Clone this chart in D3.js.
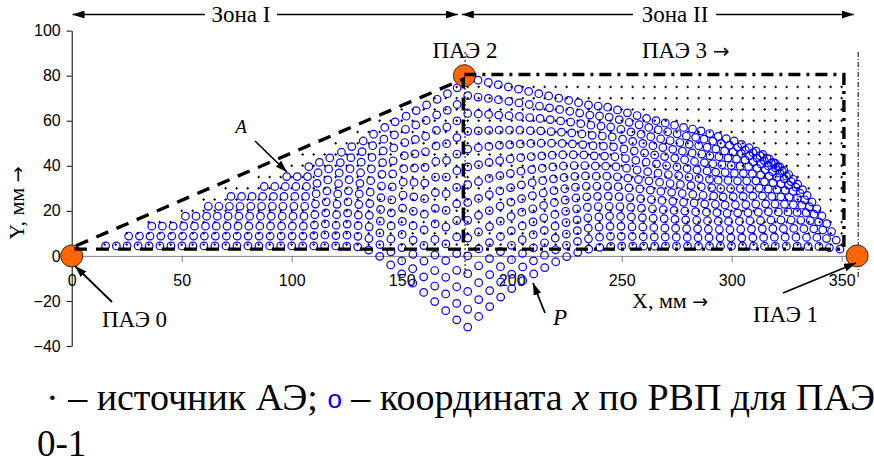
<!DOCTYPE html>
<html><head><meta charset="utf-8">
<script src="https://cdn.jsdelivr.net/npm/d3@7"></script>
<style>
html,body{margin:0;padding:0;background:#fff;}
svg{display:block;}
</style></head><body>
<svg id="chart" width="874" height="463"></svg>
<script>
// Axis ticks
const xTicks = [0, 50, 100, 150, 200, 250, 300, 350];
const yTicks = [-40, -20, 0, 20, 40, 60, 80, 100];

// Sensors (ПАЭ), mm
const sensorNames = ["ПАЭ 0", "ПАЭ 1", "ПАЭ 2"];
const sensorX = [0, 357, 178.5];
const sensorY = [0, 0, 80];

// AE source grid: zone I columns with the highest row in each column
const zone1Cols = [15,20,25,30,35,40,45,50,55,60,65,70,75,80,85,90,95,100,105,110,115,120,125,130,135,140,145,150,155,160,165,170,175];
const zone1Top  = [5,5,10,10,15,15,15,20,20,25,25,30,30,30,35,35,40,40,45,45,45,50,50,55,55,60,60,65,65,65,70,70,75];
const gridRows  = [5,10,15,20,25,30,35,40,45,50,55,60,65,70,75];
// zone II columns (all rows)
const zone2Cols = [180,185,190,195,200,205,210,215,220,225,230,235,240,245,250,255,260,265,270,275,280,285,290,295,300,305,310,315,320,325,330,335,340,345,350];

// Located positions (x by time difference, sensors 0-1), zone I, one list per source column
const locZone1 = [
  [[15.4,4.4]],
  [[20.3,4.4]],
  [[25.2,4.4],[25.9,8.8]],
  [[30.2,4.4],[30.8,8.8]],
  [[35.2,4.4],[35.6,8.8],[36.4,13.2]],
  [[40.1,4.4],[40.5,8.8],[41.2,13.2]],
  [[45.1,4.4],[45.5,8.8],[46.1,13.2]],
  [[50.1,4.4],[50.4,8.8],[50.9,13.2],[51.7,17.6]],
  [[55.1,4.4],[55.4,8.8],[55.8,13.2],[56.5,17.6]],
  [[60.1,4.4],[60.3,8.8],[60.8,13.2],[61.3,17.6],[62.1,22]],
  [[65.1,4.4],[65.3,8.8],[65.7,13.2],[66.2,17.6],[66.9,22]],
  [[70.1,4.4],[70.3,8.8],[70.6,13.2],[71.1,17.6],[71.7,22],[72.4,26.4]],
  [[75.1,4.4],[75.2,8.8],[75.6,13.2],[76,17.6],[76.5,22],[77.2,26.4]],
  [[80.1,4.4],[80.2,8.8],[80.5,13.2],[80.9,17.6],[81.4,22],[82,26.4]],
  [[85.1,4.4],[85.2,8.8],[85.5,13.2],[85.8,17.6],[86.3,22],[86.8,26.4],[87.5,30.8]],
  [[90,4.4],[90.2,8.8],[90.4,13.2],[90.7,17.6],[91.2,22],[91.7,26.4],[92.3,30.8]],
  [[95,4.4],[95.2,8.8],[95.4,13.2],[95.7,17.6],[96,22],[96.5,26.4],[97.1,30.8],[97.7,35.2]],
  [[100,4.4],[100.2,8.8],[100.3,13.2],[100.6,17.6],[101,22],[101.4,26.4],[101.9,30.8],[102.5,35.2]],
  [[105,4.4],[105.1,8.8],[105.3,13.2],[105.6,17.6],[105.9,22],[106.3,26.4],[106.7,30.8],[107.2,35.2],[107.8,39.6]],
  [[110,4.4],[110.1,9],[110.3,13.7],[110.5,18.3],[110.8,23],[111.1,27.6],[111.5,32.2],[112,36.9],[112.6,41.5]],
  [[115,4.4],[115.1,9.3],[115.3,14.2],[115.5,19.1],[115.7,24],[116,28.8],[116.4,33.7],[116.8,38.6],[117.3,43.5]],
  [[120,4.4],[120.1,9],[120.2,13.6],[120.4,18.3],[120.6,22.9],[120.9,27.5],[121.3,32.1],[121.6,36.8],[122.1,41.4],[122.6,46]],
  [[125,4.3],[125.1,9.2],[125.2,14.1],[125.4,19],[125.6,24],[125.8,28.9],[126.1,33.8],[126.5,38.7],[126.9,43.6],[127.3,48.5]],
  [[130,4],[130.1,8.7],[130.2,13.4],[130.3,18.1],[130.5,22.8],[130.7,27.5],[131,32.2],[131.3,36.9],[131.6,41.6],[132,46.3],[132.5,51]],
  [[135,2.6],[135.1,7.7],[135.2,12.9],[135.3,18],[135.5,23.2],[135.7,28.3],[135.9,33.4],[136.2,38.6],[136.5,43.7],[136.8,48.9],[137.2,54]],
  [[140,-0.2],[140.1,5],[140.1,10.2],[140.3,15.4],[140.4,20.6],[140.6,25.8],[140.8,31],[141,36.2],[141.3,41.4],[141.6,46.6],[141.9,51.8],[142.3,57]],
  [[145,-4],[145.1,1.8],[145.1,7.5],[145.2,13.3],[145.3,19.1],[145.5,24.9],[145.7,30.6],[145.9,36.4],[146.1,42.2],[146.4,47.9],[146.7,53.7],[147,59.5]],
  [[150,-8],[150,-2.2],[150.1,3.7],[150.2,9.5],[150.3,15.3],[150.4,21.2],[150.6,27],[150.7,32.8],[150.9,38.7],[151.2,44.5],[151.4,50.3],[151.7,56.2],[152,62]],
  [[155,-12.1],[155,-5.7],[155.1,0.7],[155.2,7],[155.2,13.4],[155.3,19.8],[155.5,26.2],[155.6,32.6],[155.8,39],[156,45.3],[156.2,51.7],[156.4,58.1],[156.6,64.5]],
  [[160,-16.2],[160,-9.3],[160.1,-2.3],[160.1,4.6],[160.2,11.5],[160.3,18.5],[160.4,25.4],[160.5,32.3],[160.6,39.3],[160.8,46.2],[160.9,53.1],[161.1,60.1],[161.3,67]],
  [[165,-20.3],[165,-13.4],[165,-6.5],[165.1,0.4],[165.1,7.3],[165.2,14.2],[165.3,21.1],[165.3,28.1],[165.4,35],[165.5,41.9],[165.6,48.8],[165.8,55.7],[165.9,62.6],[166.1,69.5]],
  [[170,-24.3],[170,-16.9],[170,-9.5],[170,-2.1],[170.1,5.3],[170.1,12.8],[170.2,20.2],[170.2,27.6],[170.3,35],[170.4,42.4],[170.4,49.8],[170.5,57.2],[170.7,64.6],[170.8,72]],
  [[175,-28.4],[175,-21.1],[175,-13.7],[175,-6.4],[175,1],[175,8.4],[175,15.7],[175,23.1],[175,30.4],[175.1,37.8],[175.1,45.2],[175.1,52.5],[175.1,59.9],[175.2,67.2],[175.2,74.6]]
];

// Located positions, zone II: per source column, x list and y list (rows 5..75)
const locZone2 = [
  [[180,180,180,180,180,180,180,180,180,180,180,180,180,180,180],[-31.6,-23.7,-15.8,-7.9,0,7.9,15.8,23.7,31.6,39.5,47.4,55.3,63.2,71.1,79]],
  [[185,185,185,185,185,184.9,184.9,184.9,184.9,184.9,184.8,184.8,184.8,184.7,184.7],[-26.9,-19.4,-11.9,-4.4,3.1,10.6,18,25.5,33,40.5,48,55.5,63,70.5,78]],
  [[190,190,190,189.9,189.9,189.9,189.8,189.8,189.7,189.7,189.6,189.6,189.5,189.4,189.4],[-22.5,-15.4,-8.3,-1.2,5.9,13,20.1,27.2,34.4,41.5,48.6,55.7,62.8,69.9,77]],
  [[195,195,194.9,194.9,194.9,194.8,194.7,194.6,194.6,194.5,194.4,194.3,194.1,194,193.9],[-18.3,-11.6,-4.8,1.9,8.6,15.4,22.1,28.9,35.6,42.3,49.1,55.8,62.5,69.3,76]],
  [[200,200,199.9,199.9,199.8,199.7,199.6,199.5,199.4,199.3,199.1,199,198.8,198.7,198.5],[-14.5,-8.1,-1.7,4.7,11.1,17.5,23.9,30.3,36.6,43,49.4,55.8,62.2,68.6,75]],
  [[205,205,204.9,204.8,204.8,204.6,204.5,204.4,204.2,204.1,203.9,203.7,203.5,203.3,203.1],[-11,-4.9,1.1,7.2,13.3,19.4,25.4,31.5,37.6,43.6,49.7,55.8,61.9,67.9,74]],
  [[210,209.9,209.9,209.8,209.7,209.6,209.4,209.3,209.1,208.9,208.7,208.5,208.2,208,207.7],[-8,-2.2,3.6,9.4,15.1,20.9,26.7,32.5,38.3,44.1,49.9,55.6,61.4,67.2,73]],
  [[215,214.9,214.9,214.8,214.6,214.5,214.3,214.1,213.9,213.7,213.4,213.2,212.9,212.6,212.3],[-5.2,0.3,5.8,11.3,16.9,22.4,27.9,33.4,38.9,44.4,50,55.5,61,66.5,72]],
  [[220,219.9,219.8,219.7,219.6,219.4,219.2,219,218.7,218.4,218.1,217.9,217.5,217.2,216.8],[-2.6,2.7,7.9,13.2,18.4,23.7,29,34.2,39.5,44.7,50,55.2,60.5,65.7,71]],
  [[225,224.9,224.8,224.7,224.5,224.3,224.1,223.8,223.5,223.2,222.9,222.6,222.2,221.8,221.4],[-0.3,4.7,9.7,14.8,19.8,24.8,29.8,34.8,39.9,44.9,49.9,54.9,59.9,65,70]],
  [[230,229.9,229.8,229.7,229.5,229.2,229,228.7,228.4,228,227.6,227.3,226.8,226.4,225.9],[1.6,6.4,11.2,16,20.9,25.7,30.5,35.3,40.1,44.9,49.7,54.6,59.4,64.2,69]],
  [[235,234.9,234.8,234.6,234.4,234.1,233.9,233.5,233.2,232.8,232.3,231.9,231.4,230.9,230.4],[3,7.6,12.3,16.9,21.6,26.2,30.9,35.5,40.1,44.8,49.4,54.1,58.7,63.4,68]],
  [[240,239.9,239.7,239.6,239.3,239,238.7,238.4,238,237.5,237,236.6,236,235.5,234.9],[3.8,8.3,12.8,17.3,21.9,26.4,30.9,35.4,39.9,44.4,48.9,53.5,58,62.5,67]],
  [[245,244.9,244.7,244.5,244.3,243.9,243.6,243.2,242.7,242.2,241.7,241.2,240.6,239.9,239.3],[4.2,8.7,13.1,17.6,22,26.5,30.9,35.4,39.8,44.3,48.7,53.2,57.6,62.1,66.5]],
  [[250,249.8,249.7,249.5,249.2,248.8,248.4,248,247.4,246.9,246.3,245.7,245,244.3,243.6],[4.3,8.7,13.1,17.5,21.9,26.3,30.7,35.1,39.6,44,48.4,52.8,57.2,61.6,66]],
  [[255,254.8,254.7,254.4,254.1,253.7,253.3,252.8,252.2,251.7,251,250.4,249.6,248.9,248.1],[4.3,8.6,12.9,17.3,21.6,25.9,30.2,34.5,38.9,43.2,47.5,51.8,56.2,60.5,64.8]],
  [[260,259.8,259.6,259.4,259,258.6,258.2,257.6,257,256.4,255.7,255,254.2,253.4,252.6],[4.3,8.5,12.8,17,21.2,25.4,29.7,33.9,38.1,42.4,46.6,50.8,55,59.3,63.5]],
  [[265,264.8,264.6,264.3,264,263.5,263,262.4,261.8,261.1,260.4,259.6,258.8,257.9,257],[4.3,8.4,12.6,16.7,20.9,25,29.2,33.3,37.4,41.6,45.7,49.9,54,58.2,62.3]],
  [[269.9,269.8,269.6,269.3,268.9,268.3,267.8,267.2,266.5,265.8,265,264.2,263.2,262.3,261.3],[4.3,8.4,12.4,16.5,20.5,24.6,28.6,32.7,36.7,40.8,44.8,48.9,52.9,57,61]],
  [[274.9,274.8,274.5,274.2,273.8,273.2,272.7,272,271.2,270.4,269.5,268.7,267.7,266.6,265.6],[4.3,8.3,12.3,16.2,20.2,24.2,28.2,32.1,36.1,40.1,44.1,48.1,52,56,60]],
  [[279.9,279.8,279.5,279.1,278.7,278.1,277.5,276.7,275.9,275.1,274.1,273.2,272,270.9,269.8],[4.3,8.2,12.1,16,19.9,23.8,27.7,31.7,35.6,39.5,43.4,47.3,51.2,55.1,59]],
  [[284.9,284.7,284.5,284.1,283.6,282.9,282.3,281.5,280.6,279.7,278.6,277.6,276.4,275.2,274],[4.3,8.1,12,15.8,19.6,23.5,27.3,31.2,35,38.8,42.7,46.5,50.3,54.2,58]],
  [[289.9,289.7,289.4,289,288.5,287.7,287,286.2,285.2,284.2,283.1,282,280.7,279.4,278.1],[4.3,8.1,11.8,15.6,19.4,23.1,26.9,30.7,34.4,38.2,41.9,45.7,49.5,53.2,57]],
  [[294.9,294.7,294.4,293.9,293.3,292.6,291.8,290.9,289.9,288.8,287.6,286.4,285,283.6,282.2],[4.3,8,11.7,15.4,19.2,22.9,26.6,30.3,34,37.7,41.4,45.2,48.9,52.6,56.3]],
  [[299.9,299.6,299.2,298.6,297.9,297,296.1,295,293.9,292.7,291.4,290.1,288.8,287.4,286.1],[4.3,8,11.6,15.3,18.9,22.6,26.2,29.9,33.6,37.2,40.9,44.5,48.2,51.8,55.5]],
  [[304.9,304.6,304.1,303.5,302.7,301.7,300.7,299.5,298.3,297,295.6,294.2,292.8,291.4,290],[4.3,8,11.8,15.4,19.1,22.7,26.3,29.9,33.5,37,40.5,44,47.5,50.9,54.3]],
  [[309.9,309.6,309,308.3,307.4,306.4,305.2,303.9,302.6,301.2,299.8,298.3,296.8,295.3,293.8],[4.3,8.1,11.9,15.6,19.2,22.8,26.4,29.9,33.3,36.7,40.1,43.4,46.6,49.8,53]],
  [[314.9,314.5,313.9,313.1,312.1,310.9,309.6,308.2,306.8,305.3,303.8,302.2,300.6,299,297.5],[4.3,8.2,12,15.7,19.4,23,26.5,29.9,33.3,36.6,39.8,43,46.1,49.1,52]],
  [[319.8,319.4,318.7,317.8,316.7,315.4,314,312.5,311,309.4,307.7,306.1,304.4,302.7,301.1],[4.3,8.3,12.1,15.9,19.6,23.1,26.6,30,33.3,36.5,39.6,42.6,45.5,48.3,51]],
  [[324.8,324.3,323.5,322.4,321.2,319.7,318.2,316.6,314.9,313.2,311.5,309.7,308,306.2,304.5],[4.3,8.3,12.1,15.9,19.5,23,26.4,29.7,32.9,36,38.9,41.7,44.4,47,49.5]],
  [[329.8,329.2,328.2,327,325.6,324,322.3,320.6,318.8,317,315.2,313.3,311.5,309.7,307.9],[4.3,8.3,12.2,15.9,19.5,22.9,26.2,29.4,32.5,35.4,38.2,40.8,43.4,45.8,48]],
  [[334.7,334,332.8,331.4,329.7,328,326.1,324.3,322.4,320.5,318.6,316.7,314.8,312.9,311.1],[4.2,8.2,12.1,15.8,19.3,22.7,26,29.1,32,34.8,37.4,39.9,42.3,44.5,46.5]],
  [[339.6,338.7,337.3,335.7,333.8,331.9,329.9,327.9,325.9,323.9,321.9,320,318,316.1,314.2],[4.2,8.2,12,15.7,19.2,22.5,25.7,28.7,31.5,34.2,36.7,39,41.2,43.2,45]],
  [[344.4,343.1,341.4,339.5,337.4,335.3,333.2,331.1,329.1,327,324.9,323,320.9,319,317.1],[3.7,7.7,11.5,15.1,18.5,21.8,24.9,27.8,30.5,33,35.4,37.6,39.6,41.4,43]],
  [[349.2,347.5,345.4,343.2,341,338.7,336.5,334.3,332.2,330,327.9,325.9,323.8,321.8,319.9],[3,7,10.8,14.3,17.7,20.9,23.9,26.8,29.4,31.8,34,36.1,37.9,39.5,41]]
];

// Zone outlines, mm
const zone1Path = [[2, 4.5], [178, 78.5], [178, 3], [2, 3]];
const zone2Path = [[178.5, 80.5], [351, 80.5], [351, 3], [178.5, 3]];

const svg = d3.select("#chart");

const x = d3.scaleLinear().domain([0, 360]).range([71.7, 863.7]);
const y = d3.scaleLinear().domain([-40, 100]).range([346, 30.6]);

const serif = "'Liberation Serif','Times New Roman',serif";
const sans = "'Liberation Sans',Arial,sans-serif";
const arrowFont = "'DejaVu Sans',sans-serif";

// Axes
const yAxis = svg.append("g").attr("transform", `translate(${x(0)},0)`)
  .call(d3.axisLeft(y).tickValues(yTicks).tickSize(5).tickSizeOuter(0).tickPadding(6).tickFormat(d3.format("d")));
yAxis.select(".domain").attr("stroke", "#000").attr("stroke-width", 1);
yAxis.selectAll(".tick line").attr("stroke", "#000");
yAxis.selectAll("text").attr("font-family", sans).attr("font-size", 16).attr("fill", "#000");

const xAxis = svg.append("g").attr("transform", `translate(0,${y(0)})`)
  .call(d3.axisBottom(x).tickValues(xTicks).tickSize(6).tickSizeOuter(0).tickPadding(13));
xAxis.select(".domain").attr("stroke", "#808080").attr("stroke-width", 1);
xAxis.selectAll(".tick line").attr("stroke", "#808080");
xAxis.selectAll("text").attr("font-family", sans).attr("font-size", 16).attr("fill", "#000");

// Source dots
const dots = [];
zone1Cols.forEach((c, i) => gridRows.filter(r => r <= zone1Top[i]).forEach(r => dots.push([c, r])));
zone2Cols.forEach(c => gridRows.forEach(r => dots.push([c, r])));
svg.append("g").selectAll("path").data(dots).join("path")
  .attr("d", d => `M${x(d[0]) - 1.3},${y(d[1])}h2.6M${x(d[0])},${y(d[1]) - 1.3}v2.6`)
  .attr("stroke", "#000").attr("stroke-width", 1);

// Located points
const located = locZone1.flat().concat(locZone2.flatMap(([xs, ys]) => xs.map((v, i) => [v, ys[i]])));
svg.append("g").selectAll("circle").data(located).join("circle")
  .attr("cx", d => x(d[0])).attr("cy", d => y(d[1])).attr("r", 3.8)
  .attr("fill", "none").attr("stroke", "#0000ff").attr("stroke-width", 1.2);

// Thin vertical guides through ПАЭ 2 and ПАЭ 1
svg.append("line").attr("x1", x(178.8)).attr("x2", x(178.8)).attr("y1", y(90.5)).attr("y2", y(-9.5))
  .attr("stroke", "#000").attr("stroke-width", 1).attr("stroke-dasharray", "2,2");
svg.append("line").attr("x1", x(357.5)).attr("x2", x(357.5)).attr("y1", y(90.5)).attr("y2", y(-9.5))
  .attr("stroke", "#000").attr("stroke-width", 1).attr("stroke-dasharray", "5,2,1,2");

// Sensors
svg.append("g").selectAll("circle").data(sensorX).join("circle")
  .attr("cx", d => x(d)).attr("cy", (d, i) => y(sensorY[i])).attr("r", 11)
  .attr("fill", "#ff6600").attr("stroke", "#3a2a1a").attr("stroke-width", 1);

// Zone outlines
const line = d3.line().x(d => x(d[0])).y(d => y(d[1]));
svg.append("path").attr("d", line(zone1Path) + "Z").attr("fill", "none").attr("stroke", "#000")
  .attr("stroke-width", 3.4).attr("stroke-dasharray", "13,9");
svg.append("path").attr("d", line(zone2Path)).attr("fill", "none").attr("stroke", "#000")
  .attr("stroke-width", 3.4).attr("stroke-dasharray", "12,6,3,6");

// Arrowhead marker
const defs = svg.append("defs");
defs.append("marker").attr("id", "ah").attr("viewBox", "0 0 12 8").attr("refX", 12).attr("refY", 4)
  .attr("markerWidth", 12).attr("markerHeight", 8).attr("markerUnits", "userSpaceOnUse").attr("orient", "auto")
  .append("path").attr("d", "M0,0L12,4L0,8Z").attr("fill", "#000");

function arrow(x1, y1, x2, y2, w) {
  svg.append("line").attr("x1", x1).attr("y1", y1).attr("x2", x2).attr("y2", y2)
    .attr("stroke", "#000").attr("stroke-width", w || 1.6).attr("marker-end", "url(#ah)");
}
function label(t, px, py, opts) {
  const o = opts || {};
  return svg.append("text").attr("x", px).attr("y", py).text(t)
    .attr("font-family", serif).attr("font-size", o.size || 23)
    .attr("font-style", o.italic ? "italic" : null)
    .attr("text-anchor", o.anchor || "start").attr("fill", "#000");
}

// Zone spans along the top
const topY = 14.5;
arrow(205, topY, x(0.4), topY, 1.6);
arrow(277, topY, x(175.5), topY, 1.6);
arrow(633, topY, x(177.3), topY, 1.6);
arrow(716, topY, x(355.5), topY, 1.6);
label("Зона I", 241, 22, {anchor: "middle"});
label("Зона II", 675, 22, {anchor: "middle"});

// Labels and pointers
label("ПАЭ 2", 465, 58, {anchor: "middle"});
label("ПАЭ 3 ", 642, 58).append("tspan").attr("font-family", arrowFont).attr("font-size", 20).text("→");
label("A", 241, 133, {italic: true, size: 19, anchor: "middle"});
arrow(255, 141, 287, 172, 1.6);
label("P", 560, 325, {italic: true, size: 23, anchor: "middle"});
arrow(545, 313, 533, 283, 1.8);
label("ПАЭ 0", 102, 327);
arrow(112, 302, 75, 266, 1.8);
label("ПАЭ 1", 753, 322);
arrow(783, 293, 856, 263, 1.8);
label("X, мм ", 632, 308, {size: 22}).append("tspan").attr("font-family", arrowFont).attr("font-size", 19).text("→");
const yl = svg.append("text").attr("transform", "translate(24,203) rotate(-90)").attr("text-anchor", "middle")
  .attr("font-family", serif).attr("font-size", 22).text("Y, мм ");
yl.append("tspan").attr("font-family", arrowFont).attr("font-size", 19).text("→");

// Legend caption
const cap = svg.append("text").attr("x", 46).attr("y", 410).attr("font-family", serif).attr("font-size", 38).attr("fill", "#000");
cap.append("tspan").text("· – источник АЭ; ");
cap.append("tspan").attr("font-family", sans).attr("font-size", 26).attr("fill", "#0000ff").attr("dy", -2).text("o");
cap.append("tspan").attr("dy", 2).text(" – координата ");
cap.append("tspan").attr("font-style", "italic").text("x");
cap.append("tspan").text(" по РВП для ПАЭ");
svg.append("text").attr("x", 37).attr("y", 456).attr("font-family", serif).attr("font-size", 37).text("0-1");
</script>
</body></html>
